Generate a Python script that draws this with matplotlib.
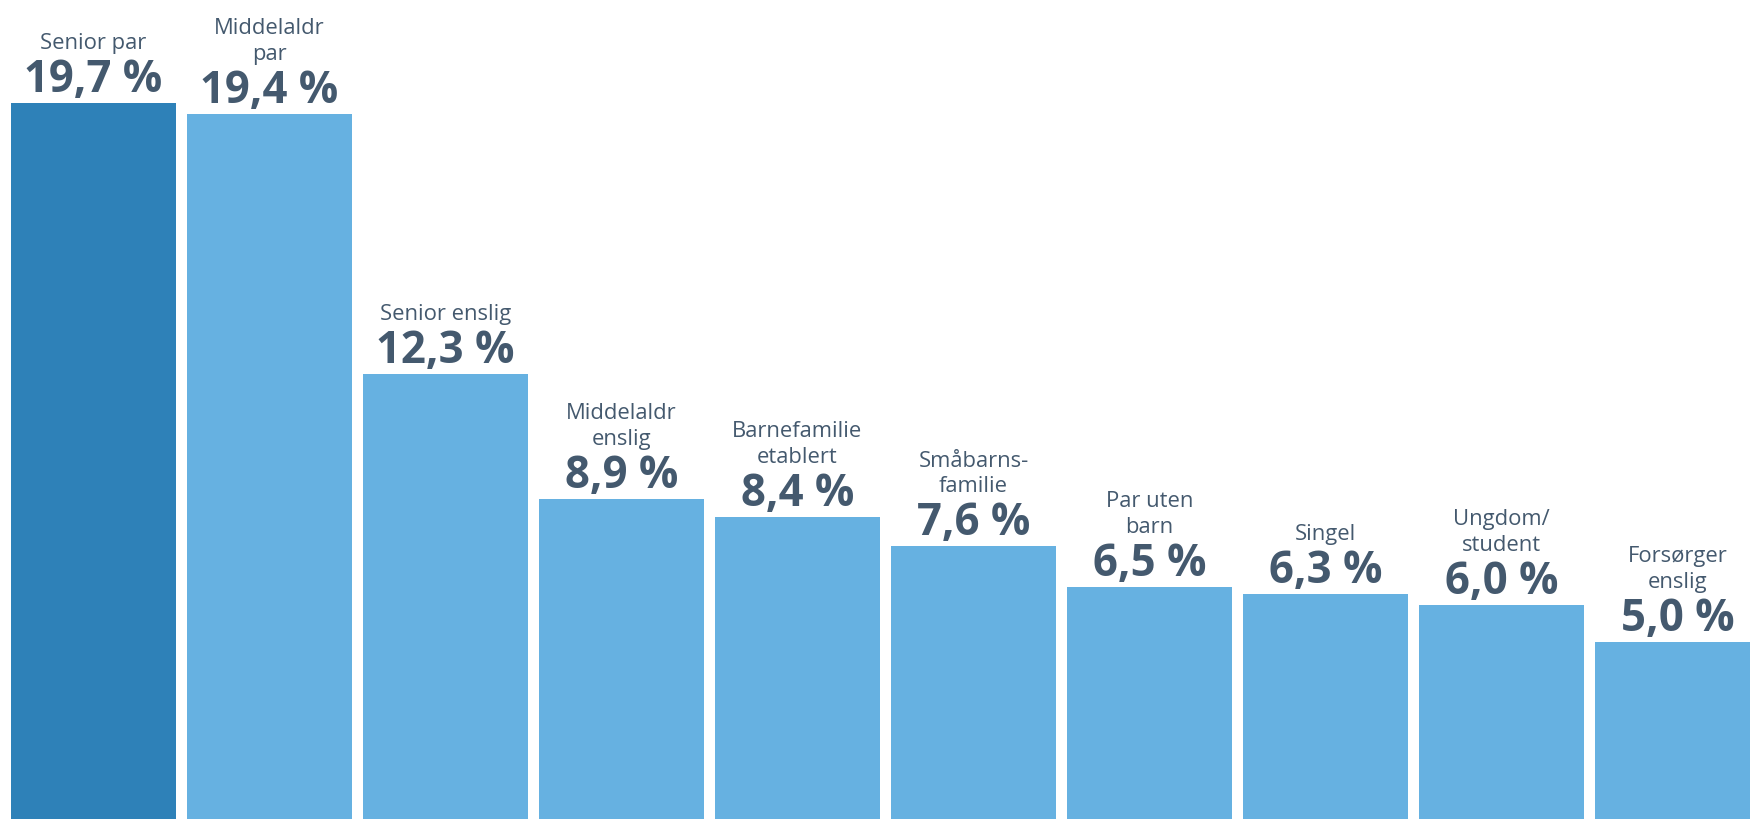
import matplotlib
matplotlib.use("Agg")
from matplotlib import pyplot as plt

categories = ["Senior par", "Middelaldr\npar", "Senior enslig", "Middelaldr\nenslig",
              "Barnefamilie\netablert", "Småbarns-\nfamilie", "Par uten\nbarn", "Singel",
              "Ungdom/\nstudent", "Forsørger\nenslig"]
shares = [19.7, 19.4, 12.3, 8.9, 8.4, 7.6, 6.5, 6.3, 6.0, 5.0]

DARK = "#2E81B8"
LIGHT = "#66B1E1"
TEXT = "#44596E"

plt.rcParams['font.family'] = ['Open Sans', 'DejaVu Sans']

fig = plt.figure(figsize=(17.5, 8.2), dpi=100)
ax = fig.add_axes([0, 0, 1, 1])

x = list(range(len(shares)))
colors = [DARK] + [LIGHT] * (len(shares) - 1)
bars = ax.bar(x, shares, width=0.9375, color=colors)

for xi, v, name in zip(x, shares, categories):
    ax.annotate(f"{v:.1f} %".replace(".", ","), (xi, v), xytext=(0, 12),
                textcoords="offset pixels", ha="center", va="baseline",
                fontsize=31.5, fontweight="bold", color=TEXT)
    ax.annotate(name, (xi, v), xytext=(0, 50), textcoords="offset pixels",
                ha="center", va="bottom", fontsize=15.8, color=TEXT,
                linespacing=1.3)

ax.set_xlim(-0.531, 9.412)
# the bars' base sits a few pixels below the lower edge of the picture
ax.set_ylim(0.161, 22.53)
ax.axis("off")

fig.savefig("out.png", dpi=100)
